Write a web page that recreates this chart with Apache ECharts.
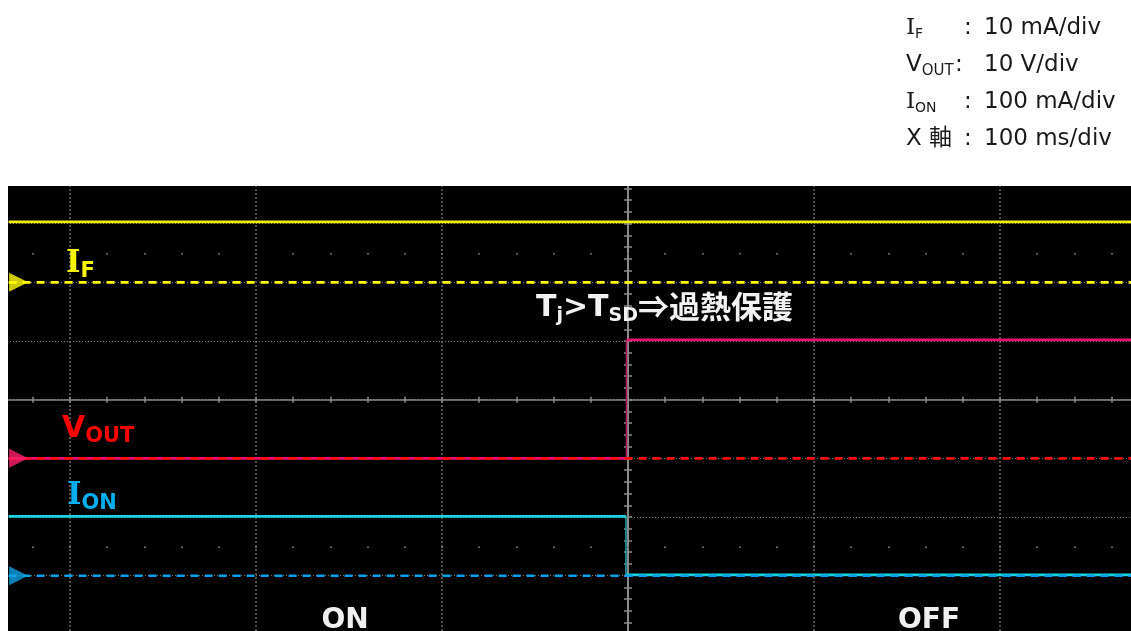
<!DOCTYPE html>
<html>
<head>
<meta charset="utf-8">
<script src="https://cdn.jsdelivr.net/npm/echarts@6/dist/echarts.min.js"></script>
<style>
  html, body { margin: 0; padding: 0; background: #ffffff; }
  #chart { width: 1131px; height: 631px; }
</style>
</head>
<body>
<div id="chart"></div>
<script>
// ---------- waveform data (physical units) ----------
const IF_TIME_MS   = [-333, 271];
const IF_MA        = [10.3, 10.3];
const VOUT_TIME_MS = [-333, -0.8, -0.8, 271];
const VOUT_V       = [0, 0, 20.2, 20.2];
const ION_TIME_MS  = [-333, -1.1, -1.1, 271];
const ION_MA       = [101, 101, 1.5, 1.5];

// ---------- scale readout and annotations ----------
const SCALE_NAMES  = [['I', 'F'], ['V', 'OUT'], ['I', 'ON'], ['X 軸', '']];
const SCALE_VALUES = ['10 mA/div', '10 V/div', '100 mA/div', '100 ms/div'];
const CHANNEL_NAMES = [['I', 'F'], ['V', 'OUT'], ['I', 'ON']];
const PHASE_LABELS = ['ON', 'OFF'];
const EVENT_PARTS  = ['T', 'j', '>T', 'SD', '⇒過熱保護'];

// ---------- screen geometry ----------
const X_MIN = -400, X_MAX = 300, X_DIV = 100;   // ms
const Y_MIN = -4, Y_MAX = 4, Y_DIV = 1;         // divisions
const ORIGIN_X = 628, ORIGIN_Y = 399.7;
const MS_PX = 1.86, DIV_PX = 58.67;
const GRID_LEFT = ORIGIN_X + X_MIN * MS_PX;
const GRID_TOP = ORIGIN_Y - Y_MAX * DIV_PX;
const GRID_W = (X_MAX - X_MIN) * MS_PX;
const GRID_H = (Y_MAX - Y_MIN) * DIV_PX;
const SCREEN_LEFT = 8, SCREEN_TOP = 186;

const CHANNELS = [
  { time: IF_TIME_MS,   values: IF_MA,  perDiv: 10,  gnd: 2,
    trace: '#f0f000', edge: '#b4b400', ref: '#ffff00', marker: '#ffff00', text: '#f5f500' },
  { time: VOUT_TIME_MS, values: VOUT_V, perDiv: 10,  gnd: -1,
    trace: '#e8106e', edge: '#a8185c', ref: '#ff0c0c', marker: '#ff1f6e', text: '#ff0000' },
  { time: ION_TIME_MS,  values: ION_MA, perDiv: 100, gnd: -3,
    trace: '#1ad2e0', edge: '#1f9aa0', ref: '#0a9fe6', marker: '#0fa0e2', text: '#00aeee' }
];

const GRAY = '#8a8a8a';

function baseAxis(min, max, interval) {
  return {
    type: 'value', min, max, interval,
    axisLabel: { show: false },
    axisLine: { show: false, onZero: false },
    axisTick: { show: false },
    minorTick: { show: false },
    splitLine: { show: false },
    minorSplitLine: { show: false }
  };
}

// horizontal tick rows: centre axis (both sides) and the dotted rows at +-2.5 div
function tickRowX(divLevel, inside, len, showLine, color, width) {
  const a = baseAxis(X_MIN, X_MAX, X_DIV);
  a.position = 'top';
  a.offset = -(Y_MAX - divLevel) * DIV_PX;
  a.axisLine = { show: showLine, onZero: false, lineStyle: { color: GRAY, width: 1.5 } };
  a.axisTick = { show: true, inside, length: len, lineStyle: { color, width } };
  a.minorTick = { show: true, splitNumber: 5, length: len, lineStyle: { color, width } };
  return a;
}
function tickColY(inside, showLine) {
  const a = baseAxis(Y_MIN, Y_MAX, Y_DIV);
  a.position = 'left';
  a.offset = -(0 - X_MIN) * MS_PX;
  a.axisLine = { show: showLine, onZero: false, lineStyle: { color: GRAY, width: 2 } };
  a.axisTick = { show: true, inside, length: 4, lineStyle: { color: GRAY, width: 1.5 } };
  a.minorTick = { show: true, splitNumber: 5, length: 4, lineStyle: { color: GRAY, width: 1.5 } };
  return a;
}

const xMain = baseAxis(X_MIN, X_MAX, X_DIV);
xMain.splitLine = { show: true, lineStyle: { color: '#6c6c6c', width: 1.5, type: [2, 2] } };
const yMain = baseAxis(Y_MIN, Y_MAX, Y_DIV);
yMain.splitLine = { show: true, lineStyle: { color: '#7a7a7a', width: 1, type: [1, 2] } };

const xAxes = [
  xMain,
  tickRowX(0, true, 3, true, GRAY, 1.5),
  tickRowX(0, false, 3, false, GRAY, 1.5),
  tickRowX(2.5, true, 1.5, false, '#6a6a6a', 2),
  tickRowX(-2.5, true, 1.5, false, '#6a6a6a', 2)
];
const yAxes = [yMain, tickColY(true, true), tickColY(false, false)];

// ---------- series ----------
const series = [];
const lineBase = { type: 'line', xAxisIndex: 0, yAxisIndex: 0, symbol: 'none', silent: true, animation: false };

CHANNELS.forEach(ch => {
  const pts = ch.time.map((t, i) => [t, ch.gnd + ch.values[i] / ch.perDiv]);
  for (let i = 0; i < pts.length - 1; i++) {
    const isEdge = pts[i][0] === pts[i + 1][0];
    series.push(Object.assign({}, lineBase, {
      data: [pts[i], pts[i + 1]],
      z: isEdge ? 2 : 3,
      lineStyle: { color: isEdge ? ch.edge : ch.trace, width: isEdge ? 1.6 : 2.8 }
    }));
  }
  // ground reference line
  const t0 = ch.time[0], t1 = ch.time[ch.time.length - 1];
  series.push(Object.assign({}, lineBase, {
    data: [[t0, ch.gnd], [t1, ch.gnd]],
    z: 4,
    lineStyle: { color: ch.ref, width: 2.6, type: [8, 6] }
  }));
  // ground marker at the left edge
  series.push({
    type: 'scatter', xAxisIndex: 0, yAxisIndex: 0, silent: true, animation: false, z: 5,
    data: [[t0, ch.gnd]],
    symbol: 'path://M0,0L10,5L0,10Z', symbolSize: [19, 19], symbolOffset: [10, 0],
    itemStyle: { color: ch.marker }
  });
});

// ---------- text ----------
const SANS = 'DejaVu Sans';
const SERIF = 'DejaVu Serif';
const CJK = 'Noto Sans CJK JP';
const measureCtx = document.createElement('canvas').getContext('2d');
function fontOf(p) {
  return (p.weight || 'normal') + ' ' + p.size + 'px ' + p.family;
}
function textWidth(t, p) {
  measureCtx.font = fontOf(p);
  measureCtx.textBaseline = 'alphabetic';
  return measureCtx.measureText(t).width;
}
// distance from the 'middle' line down to the alphabetic baseline
function baselineBelowMiddle(p) {
  measureCtx.font = fontOf(p);
  measureCtx.textBaseline = 'middle';
  return measureCtx.measureText('H').actualBoundingBoxDescent;
}
const graphics = [];

// white surround outside the scope screen
graphics.push({ type: 'rect', z: 50, silent: true, shape: { x: 0, y: 0, width: 1131, height: SCREEN_TOP }, style: { fill: '#ffffff' } });
graphics.push({ type: 'rect', z: 50, silent: true, shape: { x: 0, y: 0, width: SCREEN_LEFT, height: 631 }, style: { fill: '#ffffff' } });

// a run of text pieces laid out left to right; each piece sits on its own baseline
function textRun(x, pieces) {
  let cx = x;
  pieces.forEach(p => {
    const y = p.base - baselineBelowMiddle(p);
    graphics.push({
      type: 'text', z: 60, silent: true, x: cx, y,
      style: {
        text: p.t, fontSize: p.size, fontFamily: p.family, fontWeight: p.weight || 'normal',
        fill: p.color, align: 'left', verticalAlign: 'middle'
      }
    });
    cx += textWidth(p.t, p);
  });
}

// scale readout (top right)
const HEAD_BASE = [33.5, 70.5, 107.5, 144.5];
const HEAD_FS = 23, HEAD_COLOR = '#1a1a1a';
SCALE_NAMES.forEach((nm, i) => {
  const b = HEAD_BASE[i];
  const pieces = [{
    t: nm[0], size: HEAD_FS, base: b, color: HEAD_COLOR,
    family: nm[0] === 'I' ? SERIF : SANS + ',' + CJK
  }];
  if (nm[1]) pieces.push({ t: nm[1], size: nm[1] === 'OUT' ? 15 : 14, base: b + 4.5, family: SANS, color: HEAD_COLOR });
  textRun(906, pieces);
  textRun(i === 1 ? 955 : 964, [{ t: ':', size: HEAD_FS, base: b, family: SANS, color: HEAD_COLOR }]);
  textRun(984, [{ t: SCALE_VALUES[i], size: HEAD_FS, base: b, family: SANS, color: HEAD_COLOR }]);
});

// channel labels on screen
const CHAN_LABEL_AT = [[66, 272], [62, 437], [67, 504]];
CHANNELS.forEach((ch, i) => {
  const nm = CHANNEL_NAMES[i];
  const at = CHAN_LABEL_AT[i];
  textRun(at[0], [
    nm[0] === 'I'
      ? { t: nm[0], size: 31, weight: 'bold', family: SERIF, base: at[1], color: ch.text }
      : { t: nm[0], size: 30, weight: 'bold', family: SANS, base: at[1], color: ch.text },
    { t: nm[1], size: 21, weight: 'bold', family: SANS, base: at[1] + 4.5, color: ch.text }
  ]);
});

// protection event annotation
const EV_COLOR = '#f2f2f2';
textRun(536, [
  { t: EVENT_PARTS[0], size: 30, weight: 'bold', family: SANS, base: 316, color: EV_COLOR },
  { t: EVENT_PARTS[1], size: 19, weight: 'bold', family: SANS, base: 321, color: EV_COLOR },
  { t: EVENT_PARTS[2], size: 30, weight: 'bold', family: SANS, base: 316, color: EV_COLOR },
  { t: EVENT_PARTS[3], size: 19, weight: 'bold', family: SANS, base: 321, color: EV_COLOR },
  { t: EVENT_PARTS[4], size: 31, weight: 'bold', family: CJK, base: 318, color: EV_COLOR }
]);

// ON / OFF phase labels
[[345, PHASE_LABELS[0]], [929, PHASE_LABELS[1]]].forEach(([cx, t]) => {
  const p = { t, size: 28, weight: 'bold', family: SANS, base: 628, color: '#f0f0f0' };
  textRun(cx - textWidth(t, p) / 2, [p]);
});

const chart = echarts.init(document.getElementById('chart'), null, { renderer: 'canvas' });
chart.setOption({
  animation: false,
  backgroundColor: '#ffffff',
  grid: {
    left: GRID_LEFT, top: GRID_TOP, width: GRID_W, height: GRID_H,
    show: true, backgroundColor: '#000000', borderWidth: 0,
    containLabel: false, outerBoundsMode: 'none'
  },
  xAxis: xAxes,
  yAxis: yAxes,
  series,
  graphic: graphics
});
</script>
</body>
</html>
